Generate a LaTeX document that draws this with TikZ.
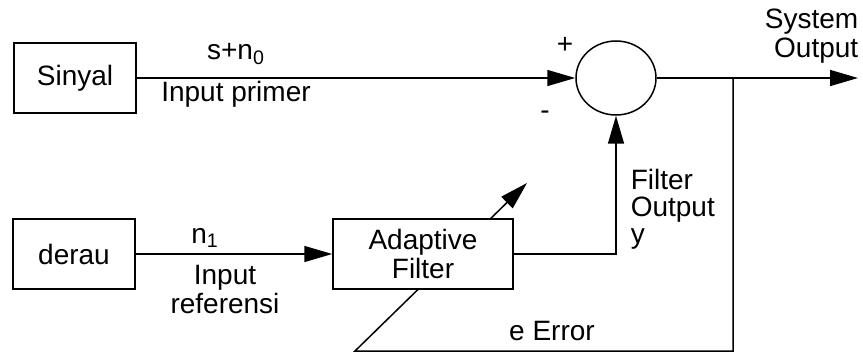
\documentclass[tikz,border=0pt]{standalone}
\usepackage{fontspec}
\setmainfont{Liberation Sans}
\usetikzlibrary{arrows.meta,shapes.geometric}
\begin{document}
\begin{tikzpicture}[x=0.5pt,y=-0.5pt,
  font=\fontsize{14}{14.5}\selectfont, line width=0.75pt,
  blk/.style={draw, fill=white, rectangle, minimum width=61pt, minimum height=35pt, inner sep=0pt, align=center},
  arr/.style={-{Triangle[length=14pt,width=8pt]}},
  lbl/.style={inner sep=0pt, align=center}]
\useasboundingbox (0,0) rectangle (863,353);
\coordinate (out) at (858,78);
\coordinate (br) at (733,78);
\coordinate (fb1) at (733,351);
\coordinate (fb2) at (355,351);
\coordinate (tip) at (527,183);
\draw[arr] (br) -- (fb1) -- (fb2) -- (tip);
\node[blk] (sin) at (75,78) {Sinyal};
\node[blk] (der) at (74,254) {derau};
\node[blk, minimum width=90pt] (af) at (423,254) {Adaptive\\Filter};
\node[draw, ellipse, minimum width=40pt, minimum height=37pt, inner sep=0pt] (sum) at (616,78) {};
\draw[arr] (sin.east) -- (sum.west);
\draw[arr] (der.east) -- (af.west);
\draw[arr] (af.east) -| (sum.south);
\draw[arr] (sum.east) -- (out);
\node[lbl, anchor=base] (sn) at (236,60) {s+n\textsubscript{0}};
\node[lbl, anchor=base] (ip) at (236,102) {Input primer};
\node[lbl, anchor=base] (n1) at (205,243) {n\textsubscript{1}};
\node[lbl, anchor=center] (ir) at (225,290) {Input\\referensi};
\node[lbl, anchor=base] (err) at (552,340) {e Error};
\node[lbl] (plus) at (565,45) {+};
\node[lbl] (minus) at (545,115) {-};
\node[lbl, align=left, anchor=north west, font=\fontsize{14}{13.5}\selectfont] (fo) at (630,168) {Filter\\Output\\y};
\node[lbl, align=right, anchor=north east] (so) at (859,8) {System\\Output};
\end{tikzpicture}
\end{document}
